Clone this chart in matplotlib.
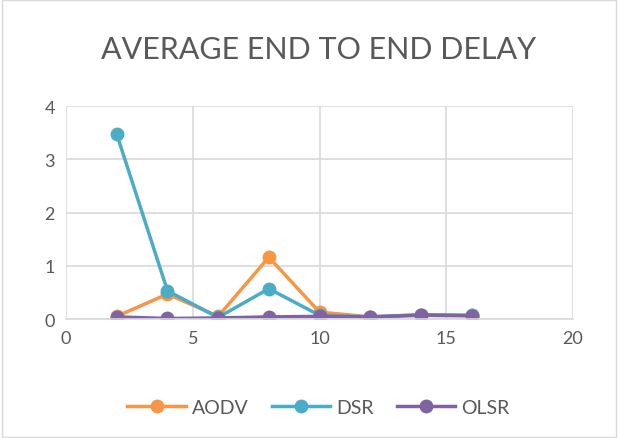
import matplotlib
matplotlib.use("Agg")
import matplotlib.pyplot as plt

plt.rcParams['font.family'] = ['Lato', 'DejaVu Sans']

nodes = [2, 4, 6, 8, 10, 12, 14, 16]
aodv = [0.05, 0.47, 0.05, 1.16, 0.13, 0.04, 0.08, 0.07]
dsr = [3.47, 0.53, 0.03, 0.57, 0.07, 0.04, 0.08, 0.07]
olsr = [0.04, 0.01, 0.02, 0.04, 0.05, 0.04, 0.07, 0.06]

fig = plt.figure(figsize=(6.18, 4.39), dpi=100)
ax = fig.add_axes([0.107, 0.271, 0.82, 0.485])

ax.plot(nodes, aodv, color='#F79646', lw=2.5, marker='o', ms=9, label='AODV')
ax.plot(nodes, dsr, color='#4BACC6', lw=2.5, marker='o', ms=9, label='DSR')
ax.plot(nodes, olsr, color='#8064A2', lw=2.5, marker='o', ms=9, label='OLSR')

ax.set_xlim(0, 20)
ax.set_ylim(0, 4)
ax.set_xticks([0, 5, 10, 15, 20])
ax.set_yticks([0, 1, 2, 3, 4])
ax.grid(True, color='#D9D9D9', lw=1.2)
ax.set_axisbelow(True)
for s in ['top', 'right', 'left']:
    ax.spines[s].set_visible(False)
ax.spines['bottom'].set_color('#D9D9D9')
ax.spines['bottom'].set_linewidth(1.2)
ax.tick_params(length=0, labelsize=13, colors='#595959', pad=8)

fig.text(0.515, 0.885, 'AVERAGE END TO END DELAY', ha='center', va='center',
         fontsize=22, color='#595959')

fig.legend(loc='center', bbox_to_anchor=(0.515, 0.07), ncol=3, frameon=False,
           fontsize=14, labelcolor='#595959', handlelength=3, columnspacing=1.2,
           handletextpad=0.3)

fig.patches.append(plt.Rectangle((0.003, 0.003), 0.994, 0.994, transform=fig.transFigure,
                                 fill=False, edgecolor='#D9D9D9', lw=1))

fig.savefig('out.png', dpi=100)
